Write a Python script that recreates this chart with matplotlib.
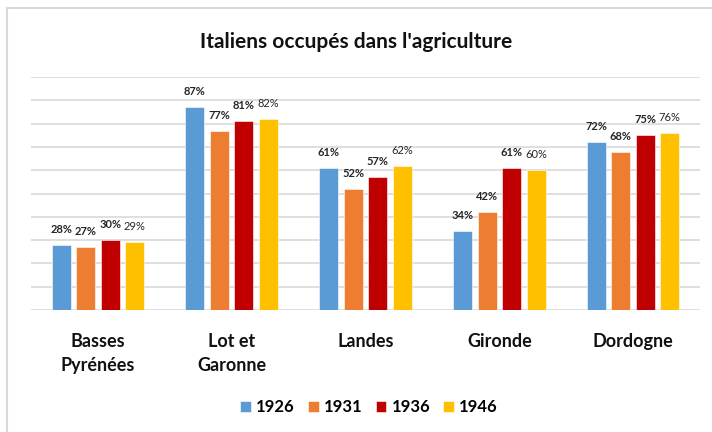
import matplotlib.pyplot as plt
import matplotlib.lines as mlines
import numpy as np

plt.rcParams['font.family'] = ['Lato', 'DejaVu Sans']

departements = ["Basses\nPyrénées", "Lot et\nGaronne", "Landes", "Gironde", "Dordogne"]
annees = ["1926", "1931", "1936", "1946"]
v1926 = [28, 87, 61, 34, 72]
v1931 = [27, 77, 52, 42, 68]
v1936 = [30, 81, 57, 61, 75]
v1946 = [29, 82, 62, 60, 76]
series = [v1926, v1931, v1936, v1946]
couleurs = ["#5B9BD5", "#ED7D31", "#C00000", "#FFC000"]
gras = ["bold", "bold", "bold", "normal"]

fig = plt.figure(figsize=(7.12, 4.32), dpi=100)
ax = fig.add_axes([31/712, 1-310/432, 669/712, 233/432])

x = np.arange(len(departements))
pas = 0.183
larg = 0.142
for i, vals in enumerate(series):
    pos = x + (i - 1.5) * pas
    ax.bar(pos, vals, width=larg, color=couleurs[i], edgecolor="white",
           linewidth=0.4, zorder=3, label=annees[i])
    for p, v in zip(pos, vals):
        ax.annotate(f"{v}%", (p, v), xytext=(0, 10), textcoords="offset pixels",
                    ha="center", va="bottom", fontsize=8, fontweight=gras[i],
                    color="#262626", annotation_clip=False)

ax.set_xlim(-0.5, len(departements) - 0.5)
ax.set_ylim(0, 100)
ax.set_yticks(np.arange(0, 101, 10))
ax.yaxis.grid(True, color="#d9d9d9", linewidth=1.2, zorder=0)
ax.tick_params(left=False, bottom=False, labelleft=False)
ax.set_xticks(x)
ax.set_xticklabels(departements, fontsize=13, fontweight="bold", color="#111111",
                   linespacing=1.5)
ax.tick_params(axis="x", pad=13)
for s in ax.spines.values():
    s.set_visible(False)

fig.text(0.5, 1-42/432, "Italiens occupés dans l'agriculture", ha="center", va="center",
         fontsize=15, fontweight="bold", color="#111111")

leg = fig.legend(loc="center", bbox_to_anchor=(369/712, 1-407/432), ncol=4, frameon=False,
                 prop={"size": 12, "weight": "bold"}, handlelength=0.65, handleheight=0.65,
                 handletextpad=0.3, columnspacing=0.8)

# cadre du graphique
fig.add_artist(mlines.Line2D([7/712, 7/712], [0, 1-8/432], color="#d9d9d9", lw=1.5))
fig.add_artist(mlines.Line2D([7/712, 1], [1-8/432, 1-8/432], color="#d9d9d9", lw=1.5))

fig.savefig("out.png", dpi=100)
